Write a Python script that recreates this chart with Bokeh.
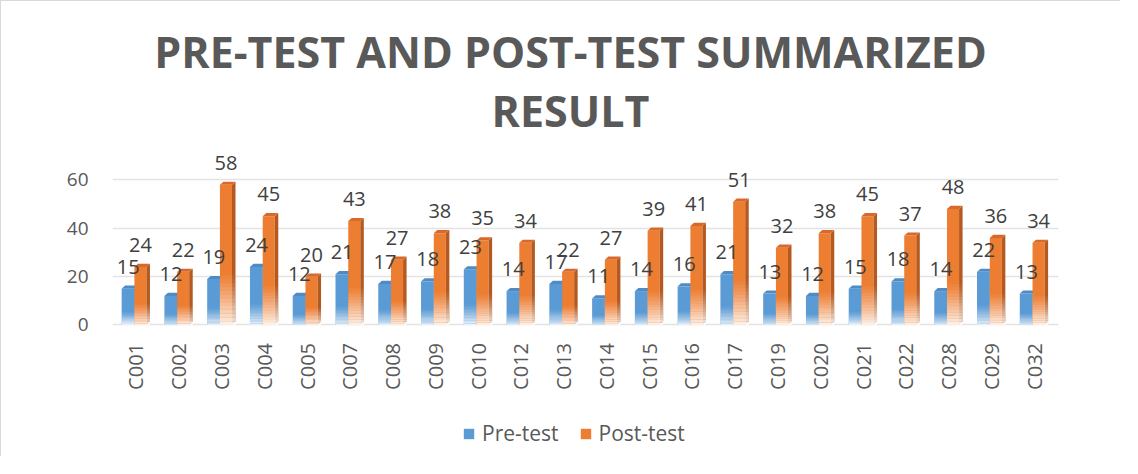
import numpy as np
from bokeh.plotting import figure
from bokeh.models import ColumnDataSource, FixedTicker, Legend, LegendItem, Range1d
from bokeh.embed import file_html
from bokeh.resources import INLINE
from bokeh.core.properties import value

# ---------------- data ----------------
categories = ["C001", "C002", "C003", "C004", "C005", "C007", "C008", "C009", "C010", "C012", "C013",
              "C014", "C015", "C016", "C017", "C019", "C020", "C021", "C022", "C028", "C029", "C032"]
pre_test = [15, 12, 19, 24, 12, 21, 17, 18, 23, 14, 17, 11, 14, 16, 21, 13, 12, 15, 18, 14, 22, 13]
post_test = [24, 22, 58, 45, 20, 43, 27, 38, 35, 34, 22, 27, 39, 41, 51, 32, 38, 45, 37, 48, 36, 34]
y_ticks = [0, 20, 40, 60]
series_names = ["Pre-test", "Post-test"]
title_lines = ["PRE-TEST AND POST-TEST SUMMARIZED", "RESULT"]

# ---------------- style ----------------
FONT = "Open Sans"
BLUE, BLUE_TOP, BLUE_SIDE = "#5b9bd5", "#4f8bc4", "#3f75a8"
ORANGE, ORANGE_TOP, ORANGE_SIDE = "#ed7d31", "#d8692a", "#b4591f"
GREY_TXT, DARK_TXT = "#595959", "#404040"

W, H = 1120, 456
p = figure(width=W, height=H, output_backend="svg", toolbar_location=None,
           x_axis_location=None, y_axis_location="left",
           x_range=Range1d(-0.549, 21.57), y_range=Range1d(-54.83, 133.86),
           min_border_left=111, min_border_right=63, min_border_top=0, min_border_bottom=0,
           styles={"border-left": "1px solid #d9d9d9", "border-top": "1px solid #d9d9d9"})
p.outline_line_color = None
p.background_fill_color = "white"
p.border_fill_color = "white"

p.xgrid.visible = False
p.ygrid.ticker = FixedTicker(ticks=y_ticks)
p.ygrid.grid_line_color = "#e3e3e3"
p.ygrid.grid_line_width = 1.5

p.yaxis.ticker = FixedTicker(ticks=y_ticks)
p.yaxis.axis_line_color = None
p.yaxis.major_tick_line_color = None
p.yaxis.minor_tick_line_color = None
p.yaxis.major_label_text_font = FONT
p.yaxis.major_label_text_font_size = "19px"
p.yaxis.major_label_text_color = GREY_TXT
p.yaxis.major_label_standoff = 18

idx = np.arange(len(categories), dtype=float)
pre = np.array(pre_test, dtype=float)
post = np.array(post_test, dtype=float)

DX = 0.082   # 3D depth in x (data units)
DY = 1.3     # 3D depth in y (data units)


def bar3d(left, right, h, face, top, side):
    src = ColumnDataSource(dict(left=left, right=right, top=h, bottom=np.zeros_like(h)))
    r = p.quad(left="left", right="right", top="top", bottom="bottom", source=src,
               fill_color=face, line_color=None)
    side_xs = [[r_, r_ + DX, r_ + DX, r_] for r_ in right]
    side_ys = [[0, DY, hh + DY, hh] for hh in h]
    p.patches(side_xs, side_ys, fill_color=side, line_color=None)
    top_xs = [[l_, r_, r_ + DX, l_ + DX] for l_, r_ in zip(left, right)]
    top_ys = [[hh, hh, hh + DY, hh + DY] for hh in h]
    p.patches(top_xs, top_ys, fill_color=top, line_color=None)
    # fade to white toward the base
    n = 14
    frac = 0.38
    bl, br, bb, bt, ba = [], [], [], [], []
    for k in range(n):
        a = 0.9 * (1 - (k + 0.5) / n) ** 1.2
        for l_, r_, hh in zip(left, right, h):
            bl.append(l_)
            br.append(r_ + DX)
            bb.append(hh * frac * k / n)
            bt.append(hh * frac * (k + 1) / n)
            ba.append(a)
    fsrc = ColumnDataSource(dict(left=bl, right=br, bottom=bb, top=bt, alpha=ba))
    p.quad(left="left", right="right", top="top", bottom="bottom", source=fsrc,
           fill_color="white", fill_alpha="alpha", line_color=None)
    return r


r_pre = bar3d(idx - 0.335, idx - 0.037, pre, BLUE, BLUE_TOP, BLUE_SIDE)
r_post = bar3d(idx - 0.037, idx + 0.245, post, ORANGE, ORANGE_TOP, ORANGE_SIDE)

# data labels
lab = ColumnDataSource(dict(
    x=np.concatenate([idx - 0.18, idx + 0.105]),
    y=np.concatenate([pre, post]),
    t=[str(v) for v in pre_test] + [str(v) for v in post_test]))
p.text(x="x", y="y", text="t", source=lab, text_align="center", text_baseline="middle",
       y_offset=-22, text_font=value(FONT), text_font_size="20px", text_color=DARK_TXT)

# category labels (rotated)
cat_src = ColumnDataSource(dict(x=idx, y=np.zeros_like(idx), t=categories))
p.text(x="x", y="y", text="t", source=cat_src, angle=np.pi / 2, text_align="right",
       text_baseline="middle", y_offset=18, text_font=value(FONT), text_font_size="20px",
       text_color=GREY_TXT)

# title (two centred lines)
title_src = ColumnDataSource(dict(x=[10.16, 10.16], y=[113.0, 88.6], t=title_lines))
p.text(x="x", y="y", text="t", source=title_src, text_align="center", text_baseline="middle",
       text_font=value(FONT), text_font_size="43px", text_font_style="bold",
       text_color=GREY_TXT)

legend = Legend(items=[LegendItem(label=series_names[0], renderers=[r_pre]),
                       LegendItem(label=series_names[1], renderers=[r_post])],
                orientation="horizontal", location=(350, 10))
legend.border_line_color = None
legend.background_fill_alpha = 0
legend.padding = 0
legend.margin = 0
legend.spacing = 20
legend.glyph_width = 13
legend.glyph_height = 13
legend.label_standoff = 7
legend.label_text_font = FONT
legend.label_text_font_size = "21px"
legend.label_text_color = GREY_TXT
p.add_layout(legend)

open("out.html", "w").write(file_html(p, INLINE))
